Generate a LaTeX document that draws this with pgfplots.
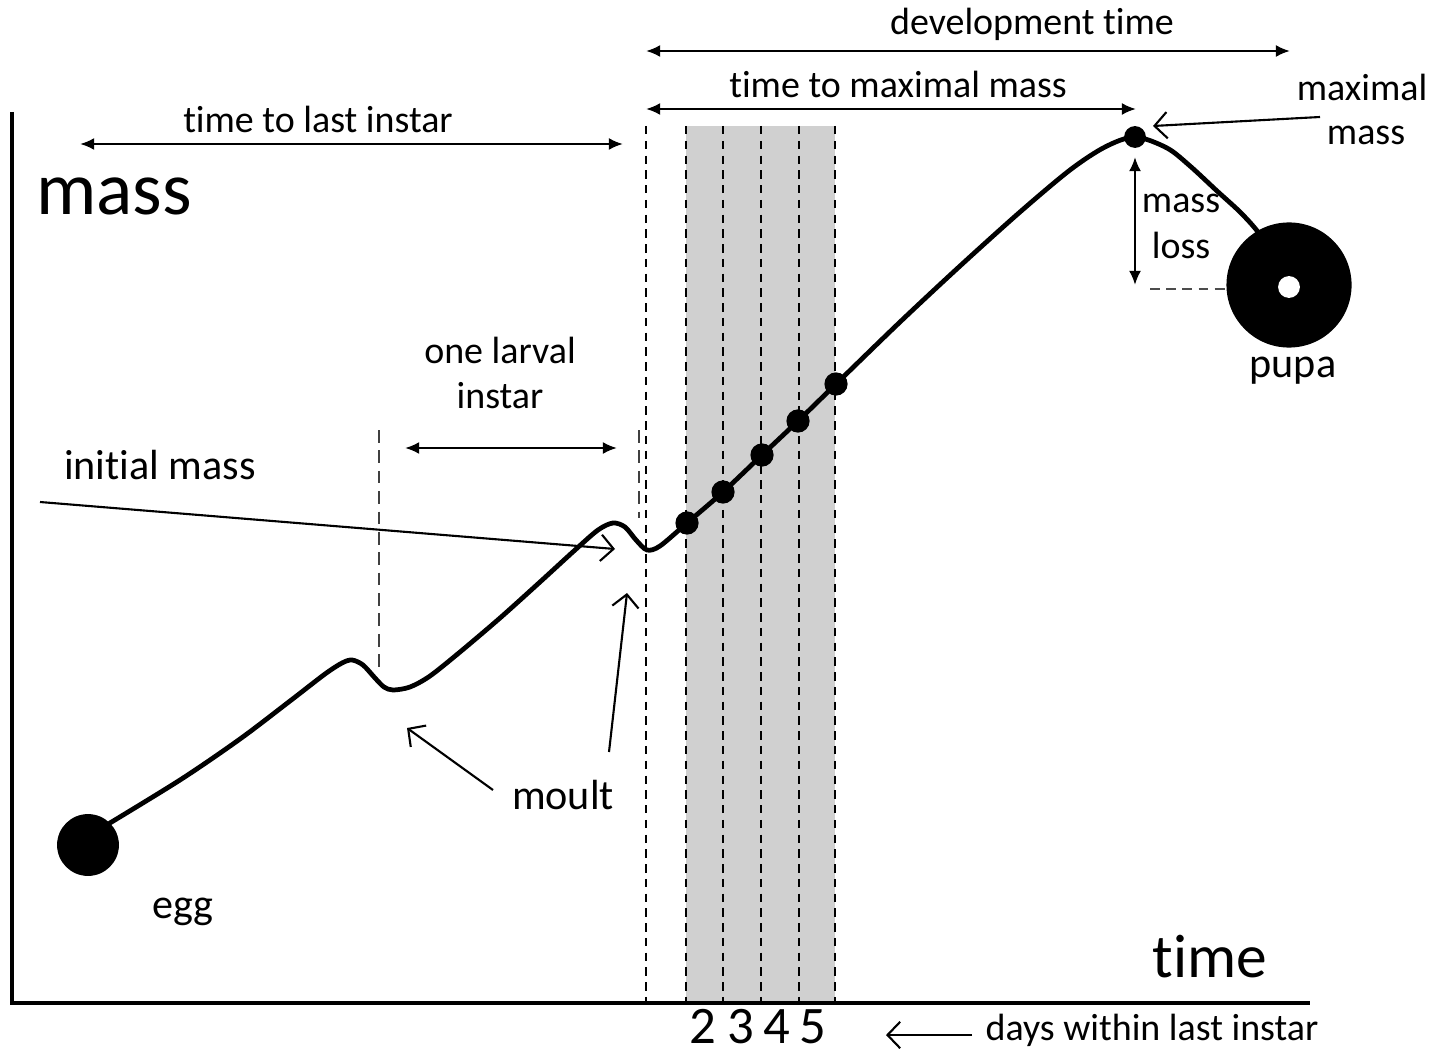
\documentclass[border=0pt]{standalone}
\usepackage{pgfplots}
\pgfplotsset{compat=1.18}
\usepackage{fontspec}
\setmainfont{Carlito}[Ligatures=NoCommon]
\usetikzlibrary{arrows.meta}
\definecolor{band}{RGB}{208,208,208}
\newcommand{\sm}{\fontsize{10.8}{13}\selectfont}
\newcommand{\md}{\fontsize{12}{14}\selectfont}
\begin{document}
\begin{tikzpicture}[
  dbl/.style={line width=0.65pt,{Latex[length=4pt,width=3.4pt]}-{Latex[length=4pt,width=3.4pt]}},
  opn/.style={line width=0.6pt,-{Straight Barb[length=3.6pt,width=7.5pt,line width=0.6pt]}},
  lab/.style={inner sep=0pt,anchor=base}
]
\begin{axis}[
  scale only axis, width=14.44cm, height=10.57cm,
  xmin=0, xmax=1444, ymin=0, ymax=1057, y dir=reverse,
  hide axis, clip=false]
\coordinate (TL) at (axis cs:0,0);
\coordinate (BR) at (axis cs:1444,1057);
% shaded last-instar days
\fill[band] (axis cs:686,126) rectangle (axis cs:835,1002);
% dashed day lines
\foreach \xx in {646,686,723,761,799,835}{
  \edef\tmp{\noexpand\draw[line width=0.45pt,dash pattern=on 2.4pt off 1.8pt] (axis cs:\xx,126) -- (axis cs:\xx,1002);}\tmp}
\draw[line width=0.5pt,black!75,dash pattern=on 3.6pt off 2.2pt] (axis cs:379,430) -- (axis cs:379,672);
\draw[line width=0.5pt,black!75,dash pattern=on 3.6pt off 2.2pt] (axis cs:639,430) -- (axis cs:639,518);
% axes
\draw[line width=1.2pt] (axis cs:12,112) -- (axis cs:12,1003) -- (axis cs:1310,1003);
% growth curve
\addplot[line width=1.35pt, smooth, tension=0.5] coordinates {
(100,829) (180,780) (240,739) (290,701) (325,674) (342,663) (352,660) (363,665) (375,678) (384,687)
(393,690) (410,687) (430,676) (460,652) (500,618) (540,582) (575,550) (598,530) (613,523) (625,527)
(636,540) (647,550) (660,546) (687,523) (723,492) (762,455) (798,421) (836,384) (900,322) (960,266)
(1020,212) (1070,170) (1105,147) (1135,137) (1167,148) (1190,166) (1217,191) (1240,212) (1258,232) (1275,258)};
% day dots
\addplot[only marks, mark=*, mark size=3.1pt, black] coordinates {(687,523) (723,492) (762,455) (798,421) (836,384)};
% maximal mass dot
\addplot[only marks, mark=*, mark size=2.9pt, black] coordinates {(1135,137)};
% egg
\addplot[only marks, mark=*, mark size=8.6pt, black] coordinates {(88,845)};
% mass-loss dashed level
\draw[line width=0.5pt,black!70,dash pattern=on 2.8pt off 1.8pt] (axis cs:1150,289) -- (axis cs:1228,289);
% pupa
\addplot[only marks, mark=*, mark size=17.6pt, black] coordinates {(1289,285)};
\draw[line width=0.5pt,white,dash pattern=on 2.8pt off 1.8pt] (axis cs:1228,289) -- (axis cs:1278,289);
\addplot[only marks, mark=*, mark size=2.9pt, white, mark options={draw=white,fill=white}] coordinates {(1289,287)};
% double arrows
\draw[dbl] (axis cs:646,51) -- (axis cs:1290,51);
\draw[dbl] (axis cs:646,109) -- (axis cs:1136,109);
\draw[dbl] (axis cs:80,144) -- (axis cs:623,144);
\draw[dbl] (axis cs:405,448) -- (axis cs:617,448);
\draw[dbl] (axis cs:1135,157) -- (axis cs:1135,285);
% open arrows
\draw[opn] (axis cs:40,502) -- (axis cs:615,549);
\draw[opn] (axis cs:493,790) -- (axis cs:407,728);
\draw[opn] (axis cs:609,752) -- (axis cs:627,593);
\draw[opn] (axis cs:1320,117) -- (axis cs:1153,126);
\draw[opn] (axis cs:972,1035) -- (axis cs:886,1035);
% labels
\node[lab] at (axis cs:1032,35) {\sm development time};
\node[lab] at (axis cs:898,98) {\sm time to maximal mass};
\node[lab] at (axis cs:318,133) {\sm time to last instar};
\node[lab] at (axis cs:1362,101) {\sm maximal};
\node[lab] at (axis cs:1366,145) {\sm mass};
\node[lab] at (axis cs:1181,213) {\sm mass};
\node[lab] at (axis cs:1181,259) {\sm loss};
\node[lab] at (axis cs:500,364) {\sm one larval};
\node[lab] at (axis cs:500,409) {\sm instar};
\node[lab] at (axis cs:1152,1040) {\sm days within last instar};
\node[lab] at (axis cs:114,215) {\fontsize{21.5}{24}\selectfont mass};
\node[lab] at (axis cs:1210,977) {\fontsize{17.5}{20}\selectfont time};
\node[lab] at (axis cs:160,479) {\md initial mass};
\node[lab] at (axis cs:563,809) {\md moult};
\node[lab] at (axis cs:183,918) {\md egg};
\node[lab] at (axis cs:1293,377) {\md pupa};
\node[lab] at (axis cs:703,1043) {\fontsize{15}{18}\selectfont 2};
\node[lab] at (axis cs:741,1043) {\fontsize{15}{18}\selectfont 3};
\node[lab] at (axis cs:777,1043) {\fontsize{15}{18}\selectfont 4};
\node[lab] at (axis cs:813,1043) {\fontsize{15}{18}\selectfont 5};
\end{axis}
\pgfresetboundingbox
\path[use as bounding box] (TL) rectangle (BR);
\end{tikzpicture}
\end{document}
